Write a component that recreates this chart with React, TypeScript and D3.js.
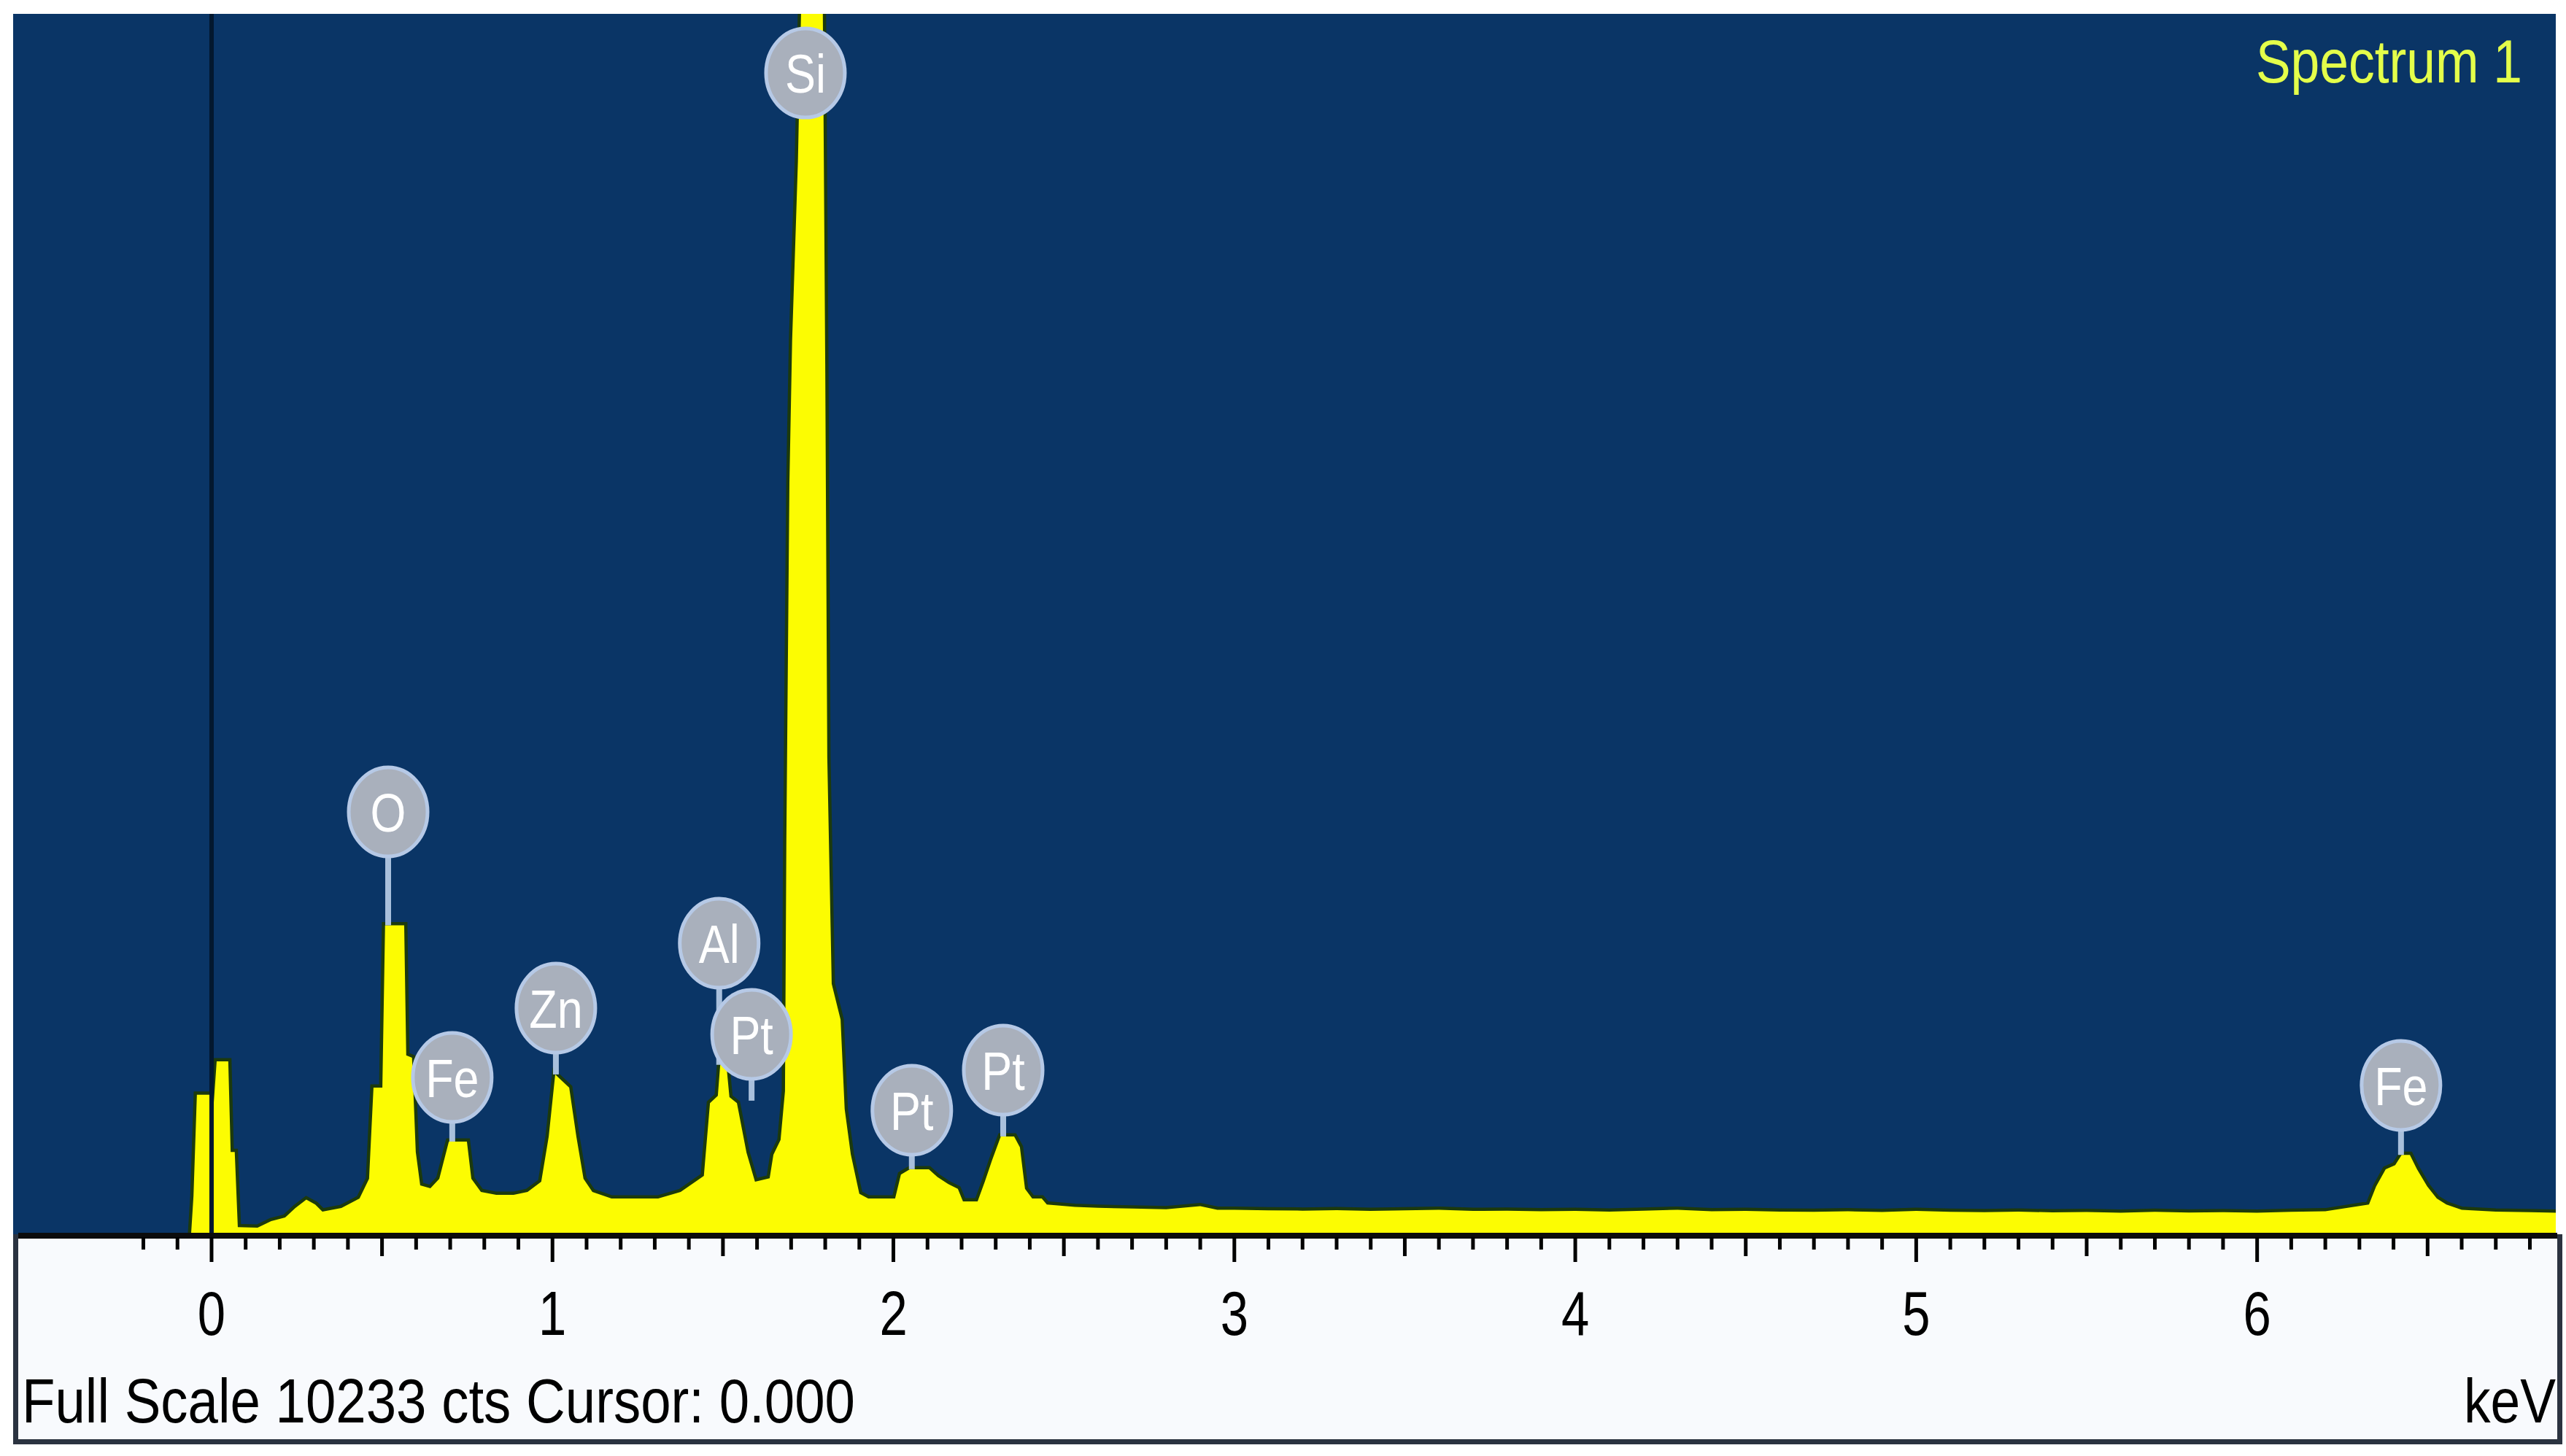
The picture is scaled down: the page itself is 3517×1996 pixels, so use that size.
import React, { useEffect, useRef } from "react";
import * as d3 from "d3";

// spectrum: energy (keV) and counts
const energyKeV = [
  -0.06, -0.053, -0.043, -0.006, 0.004, 0.015, 0.049, 0.056, 0.068, 0.077,
  0.135, 0.175, 0.216, 0.246, 0.278, 0.304, 0.325, 0.381, 0.434, 0.462,
  0.475, 0.501, 0.509, 0.565, 0.571, 0.588, 0.599, 0.612, 0.642, 0.668,
  0.696, 0.749, 0.762, 0.79, 0.835, 0.886, 0.927, 0.967, 0.989, 1.008,
  1.049, 1.07, 1.091, 1.117, 1.173, 1.31, 1.376, 1.444, 1.462, 1.485,
  1.492, 1.51, 1.519, 1.541, 1.569, 1.594, 1.637, 1.648, 1.669, 1.682,
  1.686, 1.695, 1.703, 1.72, 1.729, 1.793, 1.8, 1.806, 1.819, 1.845,
  1.857, 1.875, 1.9, 1.926, 2.005, 2.022, 2.048, 2.104, 2.129, 2.161,
  2.189, 2.204, 2.247, 2.268, 2.29, 2.315, 2.354, 2.371, 2.386, 2.407,
  2.435, 2.45, 2.532, 2.6, 2.7, 2.8, 2.9, 2.95, 3.0, 3.1,
  3.2, 3.3, 3.4, 3.5, 3.6, 3.7, 3.8, 3.9, 4.0, 4.1,
  4.2, 4.3, 4.4, 4.5, 4.6, 4.7, 4.8, 4.9, 5.0, 5.1,
  5.2, 5.3, 5.4, 5.5, 5.6, 5.7, 5.8, 5.9, 6.0, 6.1,
  6.2, 6.328, 6.349, 6.377, 6.405, 6.424, 6.448, 6.469, 6.499, 6.527,
  6.555, 6.6, 6.7, 6.8, 6.9,
];
const counts = [
  0, 320, 1170, 1170, 1000, 1450, 1450, 690, 690, 60,
  55, 110, 140, 220, 290, 250, 190, 220, 300, 465,
  1230, 1230, 2590, 2590, 1500, 1480, 690, 410, 385, 465,
  777, 777, 465, 355, 330, 330, 355, 440, 820, 1340,
  1230, 820, 465, 355, 300, 300, 355, 490, 1100, 1160,
  1420, 1420, 1150, 1100, 685, 440, 470, 667, 790, 1200,
  3300, 6300, 7500, 9000, 10233, 10233, 7300, 4000, 2100, 1800,
  1050, 670, 340, 300, 300, 500, 545, 545, 480, 420,
  380, 275, 275, 440, 625, 820, 820, 730, 380, 300,
  300, 250, 230, 222, 215, 210, 235, 205, 205, 200,
  198, 202, 196, 200, 205, 195, 198, 192, 195, 190,
  198, 205, 192, 196, 190, 188, 192, 186, 195, 188,
  185, 190, 183, 186, 180, 188, 182, 185, 180, 188,
  192, 250, 400, 545, 580, 665, 665, 545, 400, 300,
  250, 205, 190, 185, 180,
];

// element markers: name, energy, bubble level (counts), peak top (counts)
const peakElements = ["Si", "O", "Fe", "Zn", "Al", "Pt", "Pt", "Pt", "Fe"];
const peakKeV = [1.742, 0.518, 0.706, 1.01, 1.489, 1.584, 2.054, 2.322, 6.422];
const bubbleCounts = [9737, 3541, 1315, 1896, 2440, 1676, 1040, 1376, 1248];
const peakTopCounts = [10233, 2590, 777, 1340, 1420, 1120, 545, 820, 665];

const majorTicks = [0, 1, 2, 3, 4, 5, 6];
const tickLabels = ["0", "1", "2", "3", "4", "5", "6"];
const X_DOMAIN = [-0.582, 6.876];
const FULL_SCALE = 10233;
const TITLE = "Spectrum 1";
const FOOTER = "Full Scale 10233 cts Cursor: 0.000";
const UNIT = "keV";

const W = 3517;
const H = 1996;
const PLOT = { LEFT: 18, RIGHT: 3503, TOP: 19, BOTTOM: 1692 };
const PANEL_BOTTOM = 1980;
const FONT = "'Liberation Sans', Arial, sans-serif";

const App = () => {
  const svgRef = useRef(null);

  useEffect(() => {
    document.body.style.margin = "0";
    const svg = d3.select(svgRef.current).attr("width", W).attr("height", H);
    svg.selectAll("*").remove();

    const xScale = d3.scaleLinear().domain(X_DOMAIN).range([PLOT.LEFT, PLOT.RIGHT]);
    const yScale = d3
      .scaleLinear()
      .domain([0, FULL_SCALE])
      .range([PLOT.BOTTOM, PLOT.TOP]);

    svg.append("rect").attr("width", W).attr("height", H).attr("fill", "#ffffff");

    svg
      .append("defs")
      .append("clipPath")
      .attr("id", "plotClip")
      .append("rect")
      .attr("x", PLOT.LEFT)
      .attr("y", PLOT.TOP)
      .attr("width", PLOT.RIGHT - PLOT.LEFT)
      .attr("height", PLOT.BOTTOM - PLOT.TOP);

    // blue plot background
    svg
      .append("rect")
      .attr("x", PLOT.LEFT)
      .attr("y", PLOT.TOP)
      .attr("width", PLOT.RIGHT - PLOT.LEFT)
      .attr("height", PLOT.BOTTOM - PLOT.TOP)
      .attr("fill", "#0a3566");

    // white panel under the plot
    svg
      .append("rect")
      .attr("x", PLOT.LEFT)
      .attr("y", PLOT.BOTTOM)
      .attr("width", PLOT.RIGHT + 8 - PLOT.LEFT)
      .attr("height", PANEL_BOTTOM - PLOT.BOTTOM)
      .attr("fill", "#f8fafd");
    const border = "#2b3340";
    svg.append("rect").attr("x", PLOT.LEFT).attr("y", PLOT.BOTTOM).attr("width", 7).attr("height", PANEL_BOTTOM - PLOT.BOTTOM).attr("fill", border);
    svg.append("rect").attr("x", PLOT.RIGHT + 2).attr("y", PLOT.BOTTOM).attr("width", 7).attr("height", PANEL_BOTTOM - PLOT.BOTTOM).attr("fill", border);
    svg.append("rect").attr("x", PLOT.LEFT).attr("y", PANEL_BOTTOM - 7).attr("width", PLOT.RIGHT + 9 - PLOT.LEFT).attr("height", 7).attr("fill", border);

    // spectrum
    const data = energyKeV.map((e, i) => ({ e, c: counts[i] }));
    const area = d3
      .area()
      .x((d) => xScale(d.e))
      .y0(yScale(0))
      .y1((d) => yScale(d.c));
    const line = d3
      .line()
      .x((d) => xScale(d.e))
      .y((d) => yScale(d.c));

    const plot = svg.append("g").attr("clip-path", "url(#plotClip)");
    plot
      .append("path")
      .datum(data)
      .attr("d", line)
      .attr("fill", "none")
      .attr("stroke", "#1c3a0c")
      .attr("stroke-width", 9);
    plot.append("path").datum(data).attr("d", area).attr("fill", "#fcfc02");

    // cursor line at 0 keV
    plot
      .append("line")
      .attr("x1", xScale(0))
      .attr("x2", xScale(0))
      .attr("y1", PLOT.TOP)
      .attr("y2", PLOT.BOTTOM)
      .attr("stroke", "#03182f")
      .attr("stroke-width", 6);

    // axis bar and ticks
    svg
      .append("rect")
      .attr("x", PLOT.LEFT + 7)
      .attr("y", PLOT.BOTTOM - 2)
      .attr("width", PLOT.RIGHT - PLOT.LEFT - 5)
      .attr("height", 8)
      .attr("fill", "#0c0c0c");

    const minorTicks = d3.range(-2, 69).map((i) => i / 10);
    svg
      .append("g")
      .selectAll("line")
      .data(minorTicks)
      .join("line")
      .attr("x1", (d) => xScale(d))
      .attr("x2", (d) => xScale(d))
      .attr("y1", PLOT.BOTTOM + 4)
      .attr("y2", (d, i) => {
        const k = i - 2;
        if (k % 10 === 0) return PLOT.BOTTOM + 38;
        if (Math.abs(k % 10) === 5) return PLOT.BOTTOM + 30;
        return PLOT.BOTTOM + 21;
      })
      .attr("stroke", "#000000")
      .attr("stroke-width", 5);

    svg
      .append("g")
      .selectAll("text")
      .data(majorTicks)
      .join("text")
      .attr("transform", (d) => `translate(${xScale(d)},1830) scale(0.8,1)`)
      .attr("text-anchor", "middle")
      .attr("font-family", FONT)
      .attr("font-size", 86)
      .attr("fill", "#000000")
      .text((d, i) => tickLabels[i]);

    svg
      .append("text")
      .attr("x", 30)
      .attr("y", 1950)
      .attr("textLength", 1142)
      .attr("lengthAdjust", "spacingAndGlyphs")
      .attr("font-family", FONT)
      .attr("font-size", 86)
      .attr("fill", "#000000")
      .text(FOOTER);

    svg
      .append("text")
      .attr("transform", `translate(${PLOT.RIGHT},1950) scale(0.85,1)`)
      .attr("text-anchor", "end")
      .attr("font-family", FONT)
      .attr("font-size", 86)
      .attr("fill", "#000000")
      .text(UNIT);

    svg
      .append("text")
      .attr("transform", `translate(3457,113) scale(0.85,1)`)
      .attr("text-anchor", "end")
      .attr("font-family", FONT)
      .attr("font-size", 84)
      .attr("fill", "#e4ff4a")
      .text(TITLE);

    // element bubbles
    const RX = 54;
    const RY = 61;
    const labels = svg
      .append("g")
      .selectAll("g")
      .data(peakElements.map((name, i) => ({
        name,
        x: xScale(peakKeV[i]),
        y: yScale(bubbleCounts[i]),
        top: yScale(peakTopCounts[i]),
      })))
      .join("g");

    labels
      .filter((d) => d.top > d.y + RY)
      .append("line")
      .attr("x1", (d) => d.x)
      .attr("x2", (d) => d.x)
      .attr("y1", (d) => d.y + RY - 4)
      .attr("y2", (d) => d.top)
      .attr("stroke", "#a9c0dc")
      .attr("stroke-width", 8);
    labels
      .append("ellipse")
      .attr("cx", (d) => d.x)
      .attr("cy", (d) => d.y)
      .attr("rx", RX)
      .attr("ry", RY)
      .attr("fill", "#a9b0bc")
      .attr("stroke", "#b6c9e6")
      .attr("stroke-width", 5);
    labels
      .append("text")
      .attr("transform", (d) => `translate(${d.x},${d.y + 27}) scale(0.85,1)`)
      .attr("text-anchor", "middle")
      .attr("font-family", FONT)
      .attr("font-size", 74)
      .attr("fill", "#ffffff")
      .text((d) => d.name);
  }, []);

  return <svg ref={svgRef} style={{ display: "block" }}></svg>;
};

export default App;
